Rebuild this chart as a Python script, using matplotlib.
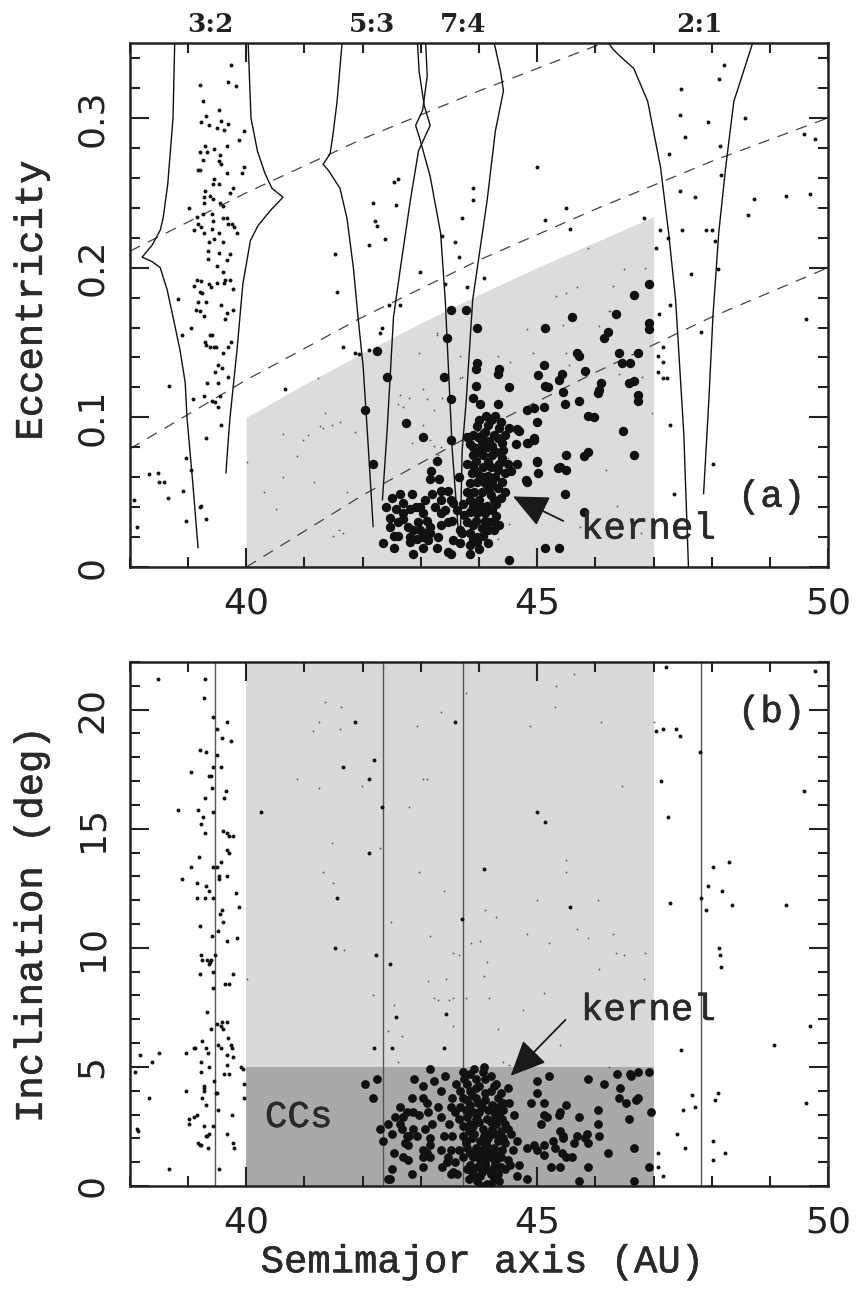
import numpy as np
import matplotlib
matplotlib.use('Agg')
import matplotlib.pyplot as plt
import matplotlib.patheffects as pe
from matplotlib.ticker import MultipleLocator
from matplotlib.transforms import blended_transform_factory

# ---------------- panel (a): eccentricity vs semimajor axis ----------------
# small dots (outside the shaded region)
ecc_small = [
    (39.74,0.335),(39.20,0.322),(39.69,0.324),(39.83,0.321),(39.26,0.311),(39.53,0.305),(39.31,0.301),
    (39.22,0.297),(39.36,0.295),(39.57,0.298),(39.69,0.296),(39.50,0.293),(39.62,0.292),(39.96,0.291),
    (39.88,0.285),(39.29,0.281),(39.45,0.279),(39.67,0.281),(39.20,0.277),(39.32,0.277),(39.55,0.275),
    (39.26,0.272),(39.53,0.271),(39.57,0.269),(39.96,0.267),(39.20,0.265),(39.17,0.265),(39.67,0.263),
    (39.93,0.263),(39.45,0.259),(39.43,0.256),(39.53,0.256),(39.77,0.253),(39.72,0.250),(39.29,0.251),
    (39.38,0.248),(39.27,0.247),(39.43,0.246),(39.55,0.243),(39.60,0.241),(39.27,0.243),(39.02,0.240),
    (39.26,0.236),(39.41,0.236),(39.15,0.234),(39.60,0.233),(39.67,0.233),(39.69,0.229),(39.76,0.229),
    (39.43,0.231),(39.17,0.229),(39.79,0.227),(39.84,0.223),(39.22,0.227),(39.27,0.223),(39.10,0.225),
    (39.41,0.226),(39.53,0.223),(39.45,0.219),(39.36,0.217),(39.60,0.217),(39.34,0.211),(39.53,0.210),
    (39.72,0.209),(39.34,0.206),(39.67,0.205),(39.50,0.201),(39.60,0.197),(39.15,0.192),(39.22,0.191),
    (39.10,0.188),(39.36,0.189),(39.39,0.187),(39.50,0.190),(39.64,0.192),(39.72,0.192),(39.62,0.190),
    (39.77,0.186),(39.20,0.184),(39.24,0.183),(38.83,0.179),(39.17,0.177),(39.31,0.177),(39.14,0.172),
    (39.20,0.171),(39.57,0.175),(39.77,0.172),(39.67,0.170),(39.27,0.168),(39.64,0.166),(39.05,0.160),
    (38.90,0.155),(39.38,0.155),(39.41,0.155),(39.29,0.150),(39.31,0.148),(39.45,0.147),(39.48,0.147),
    (39.38,0.147),(39.74,0.150),(39.69,0.147),(39.60,0.143),(39.51,0.135),(39.58,0.133),(39.47,0.130),
    (39.69,0.127),(38.67,0.121),(39.33,0.123),(39.51,0.123),(39.27,0.114),(39.08,0.112),(39.41,0.111),
    (39.46,0.110),(39.55,0.114),(39.51,0.107),(39.57,0.095),
    (39.31,0.086),(38.96,0.073),(39.05,0.065),(38.33,0.062),(38.48,0.063),(38.50,0.057),(38.59,0.057),
    (38.65,0.046),(38.91,0.051),(38.07,0.045),(39.20,0.040),(39.22,0.041),(38.96,0.031),(39.31,0.032),
    (38.12,0.027),
    (41.53,0.209),(41.56,0.184),(42.11,0.215),(42.22,0.231),(42.25,0.228),(42.18,0.243),(42.39,0.219),
    (42.58,0.242),(42.53,0.257),(42.60,0.259),(42.46,0.175),(42.65,0.175),(42.99,0.197),(40.67,0.119),
    (41.67,0.147),(41.87,0.143),(41.93,0.142),(42.11,0.145),(42.34,0.160),(42.30,0.156),
    (48.21,0.335),(48.12,0.326),(47.47,0.319),(47.45,0.302),(47.93,0.297),(48.57,0.300),(47.54,0.287),
    (48.14,0.281),(49.58,0.289),(49.77,0.286),(47.26,0.276),(45.00,0.267),(48.16,0.262),(43.89,0.253),
    (43.89,0.245),(47.45,0.251),(47.72,0.247),(48.72,0.246),(49.27,0.248),(49.69,0.249),(48.62,0.235),
    (45.50,0.240),(43.71,0.233),(45.14,0.232),(45.56,0.226),(46.83,0.233),(47.11,0.225),(47.49,0.225),
    (47.91,0.225),(48.00,0.225),(43.59,0.217),(47.24,0.220),(43.37,0.221),(43.65,0.207),(47.05,0.213),
    (48.05,0.218),(47.64,0.196),(44.08,0.193),(43.80,0.187),(43.42,0.189),(48.10,0.199),(47.28,0.175),
    (47.09,0.169),(49.62,0.166),(47.17,0.147),(47.07,0.141),(47.17,0.137),(47.07,0.130),(47.16,0.126),
    (47.23,0.126),(47.81,0.157),(47.29,0.095),(48.02,0.069),(47.36,0.049),
]

# big dots (inside the shaded region, incl. the kernel)
ecc_big = [
    (43.51,0.172),(43.78,0.172),(43.97,0.160),(45.14,0.160),(42.25,0.144),(42.42,0.127),(43.45,0.153),
    (43.97,0.136),(43.94,0.132),(45.11,0.135),(44.35,0.132),(44.32,0.129),(43.40,0.127),(45.02,0.128),
    (43.94,0.121),(44.51,0.120),(45.14,0.121),(43.51,0.112),(43.89,0.113),(44.01,0.109),(44.32,0.109),
    (44.83,0.105),(44.94,0.106),(45.11,0.107),(42.04,0.105),(42.75,0.096),(43.04,0.087),(43.52,0.085),
    (43.28,0.071),(42.18,0.069),(43.18,0.064),(43.15,0.059),(43.32,0.059),
    (44.28,0.101),(44.16,0.095),(43.97,0.094),(44.35,0.093),(44.51,0.093),(44.68,0.091),(43.90,0.088),
    (43.98,0.087),(44.07,0.089),(43.80,0.087),(44.33,0.086),(44.94,0.086),(44.83,0.083),(44.63,0.082),
    (43.90,0.080),(44.02,0.080),(44.14,0.080),(44.23,0.081),(44.42,0.078),(43.90,0.075),(44.07,0.075),
    (44.23,0.075),(44.40,0.073),(44.49,0.069),(44.66,0.069),(45.00,0.070),(43.80,0.069),(43.90,0.068),
    (44.06,0.067),(44.20,0.067),(44.32,0.065),(44.45,0.063),(43.88,0.063),(44.02,0.061),(44.16,0.061),
    (45.02,0.063),(44.83,0.057),(43.65,0.060),(43.97,0.057),(44.11,0.056),(44.23,0.056),(44.32,0.053),
    (44.37,0.046),(44.25,0.045),(44.14,0.041),(44.23,0.038),(43.85,0.045),(43.94,0.043),(43.73,0.042),
    (43.85,0.037),(43.97,0.036),(44.25,0.031),(44.11,0.031),(43.80,0.030),(43.90,0.028),(44.25,0.025),
    (44.16,0.025),(44.07,0.021),(43.97,0.020),(43.85,0.023),(43.71,0.023),(43.97,0.017),(43.85,0.015),
    (43.47,0.010),(44.51,0.005),(45.14,0.013),
    (44.00,0.098),(44.20,0.098),(44.10,0.090),(44.25,0.088),(44.40,0.083),(44.05,0.084),(43.85,0.082),
    (44.30,0.077),(44.15,0.070),(43.95,0.071),(44.35,0.069),(44.55,0.064),(43.85,0.056),(44.05,0.050),
    (44.20,0.048),(44.45,0.050),(43.80,0.050),(44.00,0.045),(44.10,0.036),(43.95,0.031),(44.30,0.034),
    (43.75,0.035),(44.05,0.026),(43.90,0.019),(44.15,0.016),(43.62,0.038),(43.55,0.043),(43.30,0.020),
    (42.98,0.040),(42.60,0.030),(42.95,0.030),(43.25,0.040),(42.40,0.040),
    (44.12,0.101),(44.38,0.097),(44.00,0.077),(44.18,0.084),(44.45,0.088),(43.95,0.064),(44.28,0.060),
    (44.10,0.060),(44.40,0.057),(44.18,0.052),(43.92,0.050),(44.30,0.042),(44.05,0.040),(43.90,0.040),
    (44.18,0.030),(44.35,0.028),(44.00,0.012),
    (42.51,0.046),(42.65,0.049),(42.70,0.043),(42.85,0.049),(42.58,0.039),(42.70,0.036),(42.82,0.039),
    (42.47,0.033),(42.47,0.027),(42.70,0.032),(42.91,0.040),(43.08,0.045),(43.20,0.049),(43.34,0.051),
    (43.47,0.051),(43.03,0.036),(43.11,0.031),(43.16,0.027),(43.34,0.045),(43.42,0.038),(43.34,0.036),
    (43.51,0.045),(43.54,0.031),(42.78,0.027),(42.87,0.025),(42.99,0.025),(43.08,0.023),(43.16,0.023),
    (42.53,0.021),(42.61,0.021),(42.82,0.020),(42.94,0.019),(43.03,0.020),(43.13,0.018),(42.82,0.017),
    (42.35,0.016),(42.53,0.013),(43.04,0.013),(42.87,0.009),(43.68,0.025),(43.68,0.016),(43.34,0.028),
    (43.47,0.030),(43.56,0.018),(43.28,0.013),(43.85,0.009),(43.51,0.009),
    (45.59,0.167),(46.35,0.169),(46.93,0.163),(46.93,0.159),(46.21,0.157),(46.14,0.153),(45.69,0.143),
    (45.71,0.141),(46.40,0.143),(46.74,0.143),(46.45,0.136),(46.59,0.136),(45.42,0.129),(45.37,0.125),
    (45.83,0.131),(45.18,0.120),(45.44,0.117),(46.09,0.123),(46.07,0.118),(46.05,0.116),(46.57,0.123),
    (46.66,0.124),(46.73,0.115),(46.73,0.111),(45.71,0.111),(45.47,0.109),(45.88,0.101),(45.97,0.100),
    (45.00,0.097),(44.66,0.092),(46.47,0.091),(44.94,0.085),(44.85,0.083),(45.88,0.077),(45.50,0.075),
    (45.80,0.074),(46.66,0.075),(44.99,0.071),(45.35,0.066),(45.40,0.067),(45.49,0.065),(44.80,0.058),
    (45.47,0.049),(45.80,0.037),(45.37,0.013),(46.92,0.189),(46.66,0.182),
]

# tiny grey dots inside the shaded region
ecc_tiny = [
    (41.24,0.126),(40.63,0.089),(40.98,0.085),(41.06,0.088),(41.27,0.094),(41.32,0.093),(41.48,0.095),
    (41.61,0.097),(41.87,0.090),(40.01,0.070),(40.87,0.074),(40.63,0.060),(41.17,0.057),(40.31,0.050),
    (41.73,0.050),(40.51,0.039),(41.60,0.025),(41.67,0.023),(41.49,0.021),(41.36,0.103),(43.28,0.156),
    (42.96,0.143),(43.04,0.119),(43.11,0.112),(42.85,0.083),(43.22,0.081),(43.34,0.080),(43.30,0.075),
    (43.34,0.071),(43.71,0.083),(42.65,0.115),(42.61,0.109),(42.70,0.107),(43.68,0.141),(43.71,0.127),
    (43.22,0.105),(43.03,0.095),(44.32,0.141),(43.27,0.155),(44.82,0.159),(45.45,0.162),(46.07,0.161),
    (46.23,0.171),(44.54,0.137),(44.92,0.143),(45.49,0.143),(45.54,0.135),(43.68,0.126),(43.37,0.113),
    (42.80,0.113),(46.40,0.129),(46.81,0.127),(46.98,0.103),(43.15,0.085),(44.49,0.073),(46.19,0.065),
    (44.28,0.055),(46.38,0.041),(44.51,0.029),(45.73,0.027),(46.78,0.023),(44.32,0.019),(45.88,0.213),
    (46.49,0.199),(46.86,0.200),(46.31,0.188),(45.69,0.187),(45.49,0.183),(45.32,0.181),(46.26,0.171),
]

# shaded region: a = 40..47 below the q = 36 AU perihelion curve
shade_a = [40, 41, 42, 43, 44, 45, 46, 47]
shade_e = [0.100, 0.122, 0.143, 0.163, 0.182, 0.200, 0.217, 0.234]

# dashed lines of constant perihelion q = 30, 35, 40 AU
q_a = [38, 40, 42, 44, 46, 48, 50]
q30_e = [0.211, 0.250, 0.286, 0.318, 0.348, 0.375, 0.400]
q35_e = [0.079, 0.125, 0.167, 0.205, 0.239, 0.271, 0.300]
q40_a = [40, 42, 44, 46, 48, 50]
q40_e = [0.000, 0.048, 0.091, 0.130, 0.167, 0.200]

# resonance separatrices (a, e)
res_32_left = [(38.77,0.352),(38.74,0.300),(38.65,0.256),(38.57,0.233),(38.52,0.225),(38.38,0.215),
               (38.21,0.207),(38.38,0.204),(38.52,0.200),(38.64,0.185),(38.74,0.167),(38.86,0.145),
               (38.95,0.123),(38.98,0.100),(39.03,0.078),(39.08,0.056),(39.17,0.013)]
res_32_right = [(40.03,0.352),(40.08,0.300),(40.19,0.278),(40.32,0.263),(40.44,0.253),(40.63,0.247),
                (40.41,0.238),(40.20,0.228),(40.07,0.218),(39.94,0.189),(39.84,0.145),(39.72,0.100),
                (39.69,0.085),(39.65,0.063)]
res_53_left = [(41.65,0.352),(41.56,0.311),(41.49,0.289),(41.44,0.276),(41.32,0.269),(41.41,0.265),
               (41.61,0.253),(41.73,0.233),(41.84,0.200),(41.92,0.167),(42.01,0.133),(42.10,0.078),
               (42.18,0.027)]
res_53_right = [(42.94,0.352),(42.97,0.331),(43.06,0.308),(43.16,0.295),(42.96,0.278),(42.82,0.245),
                (42.65,0.200),(42.53,0.167),(42.42,0.091),(42.34,0.045)]
res_74_left = [(43.08,0.352),(43.11,0.328),(43.03,0.305),(42.91,0.295),(42.99,0.285),(43.16,0.261),
               (43.34,0.223),(43.42,0.178),(43.54,0.078),(43.65,0.021)]
res_74_right = [(44.25,0.352),(44.37,0.331),(44.42,0.318),(44.28,0.291),(44.14,0.245),(43.99,0.205),
                (43.89,0.178),(43.78,0.111),(43.71,0.078),(43.68,0.021)]
res_21_left = [(46.19,0.352),(46.30,0.346),(46.43,0.341),(46.66,0.333),(46.90,0.311),(47.12,0.267),
               (47.26,0.223),(47.38,0.178),(47.52,0.089),(47.60,0.000)]
res_21_right = [(48.72,0.352),(48.38,0.311),(48.24,0.267),(48.12,0.223),(48.02,0.167),(47.95,0.111),
                (47.86,0.049)]

res_labels = ['3:2', '5:3', '7:4', '2:1']
res_label_a = [39.38, 42.17, 43.73, 47.79]

# ---------------- panel (b): inclination vs semimajor axis ----------------
inc_small = [
    (38.48,21.3),(39.29,21.3),(39.27,20.5),(39.43,19.7),(39.67,19.5),(39.50,19.2),(39.58,18.8),(39.74,18.7),
    (39.20,18.3),(39.31,18.2),(39.50,18.1),(39.43,17.6),(39.57,17.6),(39.05,17.4),(39.36,17.2),(39.39,17.2),
    (39.65,16.6),(39.62,16.3),(39.41,16.7),(39.29,16.3),(38.83,15.8),(39.17,15.8),(39.26,15.5),(39.43,15.7),
    (39.22,15.2),(39.29,14.8),(39.60,14.9),(39.67,14.8),(39.71,14.7),(39.77,14.7),(39.67,14.1),(39.71,14.0),
    (39.19,13.8),(39.57,13.6),(39.05,13.4),(39.43,13.4),(39.50,13.4),(39.53,13.0),(39.53,12.9),(39.67,13.0),
    (38.90,12.9),(39.15,12.7),(39.31,12.6),(39.36,12.4),(39.15,12.1),(39.29,12.1),(39.43,12.1),(39.82,12.3),
    (39.88,11.7),(39.58,11.6),(39.55,11.4),(39.60,11.1),(39.20,10.9),(39.51,10.7),(39.41,10.5),(39.67,10.3),
    (39.84,10.4),(39.22,9.7),(39.24,9.5),(39.20,8.9),(39.33,9.5),(39.38,9.4),(39.36,9.3),(39.39,9.5),
    (39.46,9.7),(39.43,9.0),(39.43,8.3),(39.64,8.5),(39.71,8.5),(39.77,8.9),(39.33,7.3),(39.39,6.6),
    (39.50,6.8),(39.57,6.7),(39.60,6.6),(39.67,6.9),(39.58,6.9),(39.24,6.1),(39.10,5.8),(39.12,5.8),
    (38.96,5.6),(39.31,5.8),(39.34,5.6),(39.51,5.9),(39.57,5.8),(39.69,6.2),(39.74,5.9),(39.76,5.8),
    (39.67,5.5),(39.77,5.4),(38.50,5.6),(38.17,5.5),(38.38,5.2),(38.09,4.8),(39.22,5.2),(39.22,4.8),
    (39.36,5.0),(39.67,5.1),(39.62,4.7),(39.71,4.7),(39.44,4.4),(39.48,3.9),(39.50,3.9),(38.96,4.0),
    (39.27,4.2),(39.27,4.1),(39.27,4.0),(39.24,3.7),(39.96,4.3),(39.94,4.9),(39.91,5.0),(38.33,3.7),
    (39.31,3.4),(39.51,3.2),(39.76,3.0),(39.15,3.0),(39.10,2.9),(39.02,2.8),(39.02,2.6),(39.27,2.5),
    (39.43,2.5),(38.12,2.4),(38.14,2.3),(39.36,2.2),(39.33,2.1),(39.31,2.1),(39.67,2.2),(39.17,1.8),
    (39.20,1.7),(39.22,1.7),(39.34,1.6),(39.77,1.8),(39.79,1.6),(38.67,0.7),(39.53,0.7),(39.96,3.7),
    (47.22,21.8),(49.77,21.6),(47.05,19.1),(47.17,19.2),(47.38,19.2),(47.45,18.9),(47.79,18.2),(47.12,17.0),
    (49.58,16.6),(47.24,15.5),(48.02,13.4),(48.29,13.6),(47.93,12.6),(48.17,12.4),(47.29,11.9),(47.81,12.1),
    (47.91,11.6),(48.34,11.8),(49.27,11.8),(48.12,10.0),(48.14,9.7),(48.16,9.2),(49.69,6.7),(47.47,5.7),
    (49.07,5.9),(47.66,3.8),(48.10,3.9),(48.05,3.6),(47.72,3.3),(47.50,3.2),(49.62,3.5),(47.41,2.2),
    (47.54,1.6),(48.02,1.9),(48.22,1.4),(48.03,1.1),(47.07,1.4),(47.07,0.8),(47.16,0.4),
    (41.87,19.5),(41.67,17.6),(42.20,17.9),(42.11,17.1),(40.26,15.7),(42.34,15.9),(42.11,14.0),(43.59,19.5),
    (44.08,13.3),(41.56,12.1),(43.71,11.2),(41.53,10.0),(42.23,9.7),(42.47,9.3),(45.00,15.7),(45.14,15.3),
    (45.56,11.7),(42.51,5.8),(42.58,7.1),(42.20,5.8),(43.44,7.2),(43.40,5.8),
]

inc_tiny = [
    (41.36,20.3),(41.63,20.1),(41.25,19.5),(41.15,19.1),(41.61,19.2),(40.87,17.1),(41.25,16.7),(41.98,16.8),
    (42.80,15.9),(41.48,14.4),(42.30,14.2),(41.32,13.2),(41.49,12.7),(42.97,13.2),(43.40,12.4),(42.49,11.1),
    (43.15,10.5),(43.35,19.9),(42.94,19.3),(43.04,17.1),(43.11,17.1),(43.78,20.7),(42.35,21.8),(43.87,10.2),
    (44.01,10.3),(44.11,11.6),(44.30,11.3),(43.56,9.8),(43.66,9.7),(44.14,9.4),(44.08,8.8),(43.13,8.6),
    (43.44,8.7),(41.68,9.9),(40.01,8.7),(42.18,8.0),(43.23,7.9),(44.18,7.9),(45.63,21.5),(45.32,21.0),
    (45.30,20.1),(44.87,19.3),(46.09,19.5),(46.45,16.8),(45.49,13.7),(45.49,13.2),(44.99,12.0),(46.04,12.0),
    (44.82,10.6),(45.69,10.8),(45.88,10.4),(46.30,10.6),(45.21,10.2),(46.35,9.8),(46.49,9.7),(46.86,9.8),
    (46.07,9.1),(46.83,8.7),(45.11,8.1),(43.78,7.9),(43.56,7.9),(44.76,7.4),(44.33,6.6),(43.56,6.7),
    (45.40,5.9),(44.42,5.2),(44.51,5.1),(46.23,5.0),(42.53,7.6),(42.44,6.5),(42.68,6.3),(42.60,5.2),
    (43.30,7.8),(43.49,7.8),(47.00,19.5),
]

inc_big = [
    (42.04,4.3),(42.25,4.5),(42.18,3.7),(42.89,4.5),(43.15,4.9),(43.42,4.6),(43.23,4.4),(43.04,4.2),
    (43.61,4.3),(43.73,4.8),(42.85,3.7),(43.04,3.7),(42.65,3.3),(42.77,3.1),(42.87,3.1),(42.56,2.9),
    (43.11,3.5),(43.13,3.1),(43.30,3.3),(43.52,3.3),(43.58,3.1),(43.34,2.9),(43.20,2.6),(43.49,2.6),
    (42.44,2.6),(42.65,2.6),(42.68,2.4),(42.51,2.2),(42.87,2.4),(43.08,2.4),(43.39,2.1),(43.54,2.1),
    (42.77,2.1),(42.80,2.1),(42.35,1.9),(42.94,2.1),(42.73,1.8),(42.78,1.7),(43.16,2.0),(43.16,1.7),
    (43.34,1.5),(43.52,1.5),(42.53,1.4),(43.04,1.5),(43.11,1.4),(43.03,1.2),(43.15,1.2),(42.70,1.2),
    (42.78,1.1),(43.47,1.2),(43.45,1.0),(43.59,1.0),(42.51,0.7),(43.03,0.8),(42.85,0.5),(42.44,0.3),
    (42.47,0.3),(43.56,0.6),(43.63,0.5),(43.37,0.8),(43.51,0.5),(42.70,2.9),(42.30,2.4),(43.34,4.0),
    (42.96,3.0),(43.54,3.7),
    (44.08,5.0),(44.06,4.8),(43.94,4.5),(43.80,4.3),(44.11,4.5),(43.85,4.0),(43.73,3.7),(43.94,3.7),
    (44.20,4.0),(44.32,3.7),(44.49,4.1),(43.68,3.3),(43.85,3.4),(43.99,3.5),(44.16,3.2),(44.32,3.3),
    (44.42,3.2),(44.51,3.5),(43.80,2.9),(43.97,3.0),(44.14,2.8),(44.28,2.9),(44.40,2.8),(44.49,2.4),
    (43.73,2.5),(43.90,2.5),(44.06,2.4),(44.23,2.4),(44.37,2.3),(43.73,2.1),(43.88,2.0),(44.02,1.9),
    (44.16,2.0),(44.32,1.9),(44.42,2.0),(43.80,1.6),(43.94,1.6),(44.08,1.6),(44.25,1.6),(44.40,1.5),
    (43.73,1.2),(43.90,1.2),(44.06,1.2),(44.20,1.2),(44.37,1.2),(43.85,0.9),(43.97,0.8),(44.11,0.9),
    (44.25,0.8),(44.37,0.8),(43.90,0.5),(44.02,0.4),(44.20,0.5),(43.97,0.2),(44.14,0.1),(44.32,0.5),
    (44.58,1.5),(44.49,1.1),(44.66,1.9),(44.66,0.4),(44.82,0.3),(44.68,0.9),
    (43.85,4.7),(44.20,4.6),(44.30,4.3),(43.95,4.1),(44.10,3.9),(43.80,3.6),(44.05,3.3),(44.25,3.1),
    (43.90,3.1),(44.45,2.6),(43.82,2.3),(44.15,2.2),(44.00,2.7),(44.30,2.6),(43.85,1.4),(44.00,1.4),
    (44.15,1.4),(44.30,1.3),(43.78,1.9),(44.10,1.0),(44.28,1.0),(43.80,0.7),(44.05,0.6),(44.25,0.3),
    (44.45,0.7),(44.55,2.2),(44.60,3.0),(43.65,2.8),(43.65,1.5),(43.67,4.0),
    (43.92,4.9),(44.00,4.2),(44.25,4.2),(43.75,4.5),(44.38,3.9),(43.88,3.8),(44.10,3.6),(44.42,3.5),
    (43.78,3.2),(44.22,3.4),(44.00,3.1),(44.35,3.0),(43.95,2.8),(44.20,2.7),(43.85,2.6),(44.08,2.1),
    (44.25,2.2),(43.92,2.2),(44.38,2.1),(43.78,1.8),(44.12,1.8),(44.45,1.8),(43.95,1.3),(44.18,1.6),
    (44.30,1.1),(44.02,1.1),(43.88,0.6),(44.12,0.7),(44.35,0.2),(43.82,0.3),(44.05,0.0),(44.20,0.1),
    (45.00,4.4),(45.21,4.6),(45.00,3.9),(44.89,3.5),(45.11,3.5),(45.49,3.4),(45.39,3.1),(45.37,3.0),
    (45.11,3.0),(45.16,2.9),(45.06,2.6),(45.71,2.9),(46.04,3.2),(45.88,4.5),(46.14,4.3),(46.37,4.7),
    (46.59,4.7),(46.62,4.6),(46.74,4.8),(46.93,4.8),(46.43,4.1),(46.40,3.7),(46.52,3.5),(46.69,3.6),
    (46.73,3.7),(46.95,3.1),(46.57,2.8),(46.05,2.6),(45.40,2.3),(45.45,2.1),(45.45,2.0),(45.28,1.9),
    (45.68,2.1),(45.85,2.2),(45.83,2.0),(45.87,1.8),(46.07,2.1),(44.83,1.6),(44.94,1.7),(45.00,1.5),
    (45.12,1.7),(45.30,1.6),(45.42,1.4),(45.11,1.3),(45.49,1.2),(45.59,1.2),(45.63,1.8),(46.21,1.4),
    (46.66,1.6),(45.23,0.8),(45.39,0.8),(45.88,0.8),(46.92,0.8),(45.71,0.2),(46.66,0.2),(44.53,0.9),
]

res_centers = [39.46, 42.35, 43.73, 47.81]

# ---------------- figure ----------------
mono = 'Liberation Mono'
plt.rcParams['font.family'] = ['DejaVu Sans']

fig = plt.figure(figsize=(8.59, 13.0), dpi=100)
ax1 = fig.add_axes([0.1513, 0.5638, 0.8127, 0.4031])
ax2 = fig.add_axes([0.1513, 0.0877, 0.8127, 0.4031])


def style_axis(ax, ymajor, yminor):
    ax.xaxis.set_major_locator(MultipleLocator(5))
    ax.xaxis.set_minor_locator(MultipleLocator(1))
    ax.yaxis.set_major_locator(MultipleLocator(ymajor))
    ax.yaxis.set_minor_locator(MultipleLocator(yminor))
    ax.tick_params(which='both', direction='in', top=True, right=True, width=1.5, colors='#222222')
    ax.tick_params(which='major', length=14)
    ax.tick_params(which='minor', length=7)
    ax.tick_params(axis='x', labelsize=26, pad=14, labelcolor='#222222')
    ax.tick_params(axis='y', labelsize=26, pad=15, labelrotation=90, labelcolor='#222222')
    for sp in ax.spines.values():
        sp.set_linewidth(1.8)
        sp.set_color('#222222')


# normal-weight typewriter face, thickened a little with a thin stroke
thick = [pe.withStroke(linewidth=0.45, foreground='#2a2a2a')]
label_kw = dict(family=mono, color='#2a2a2a', path_effects=thick)

# ---- panel (a)
ax1.fill_between(shade_a, 0, shade_e, color='#dcdcdd', lw=0, zorder=0)
for xs, ys in [(q_a, q30_e), (q_a, q35_e), (q40_a, q40_e)]:
    ax1.plot(xs, ys, color='#444444', lw=0.9, ls=(0, (9, 7)), zorder=1)
for curve in [res_32_left, res_32_right, res_53_left, res_53_right,
              res_74_left, res_74_right, res_21_left, res_21_right]:
    c = np.array(curve)
    ax1.plot(c[:, 0], c[:, 1], color='#111111', lw=1.0, zorder=2)

t = np.array(ecc_tiny)
ax1.scatter(t[:, 0], t[:, 1], s=1.6, color='#555555', lw=0, zorder=3)
s = np.array(ecc_small)
ax1.scatter(s[:, 0], s[:, 1], s=8, color='#111111', lw=0, zorder=3)
b = np.array(ecc_big)
ax1.scatter(b[:, 0], b[:, 1], s=46, color='#111111', lw=0, zorder=3)

ax1.set_xlim(38, 50)
ax1.set_ylim(0, 0.35)
style_axis(ax1, 0.1, 0.02)
ax1.set_yticks([0, 0.1, 0.2, 0.3])
ax1.set_yticklabels(['0', '0.1', '0.2', '0.3'], rotation=90, va='center')

trans = blended_transform_factory(ax1.transData, ax1.transAxes)
for lab, xa in zip(res_labels, res_label_a):
    ax1.text(xa, 1.036, lab, transform=trans, ha='center', va='center',
             fontsize=19, fontweight='bold', family='DejaVu Serif', color='#222222')

ax1.annotate('', xy=(44.54, 0.048), xytext=(45.49, 0.030),
             arrowprops=dict(arrowstyle='-|>,head_length=1.1,head_width=0.5',
                             mutation_scale=20, color='#1a1a1a', lw=1.3))
ax1.text(45.75, 0.019, 'kernel', fontsize=27, va='baseline', **label_kw)
ax1.text(48.45, 0.047, '(a)', fontsize=27, va='center', **label_kw)

# ---- panel (b)
ax2.axvspan(40, 47, color='#d9d9db', lw=0, zorder=0)
ax2.fill_between([40, 47], 0, 5, color='#a9a9ab', lw=0, zorder=0.5)
for xc in res_centers:
    ax2.axvline(xc, color='#555555', lw=1.0, zorder=1)

t = np.array(inc_tiny)
ax2.scatter(t[:, 0], t[:, 1], s=1.6, color='#555555', lw=0, zorder=3)
s = np.array(inc_small)
ax2.scatter(s[:, 0], s[:, 1], s=8, color='#111111', lw=0, zorder=3)
b = np.array(inc_big)
ax2.scatter(b[:, 0], b[:, 1], s=40, color='#111111', lw=0, zorder=3)

ax2.set_xlim(38, 50)
ax2.set_ylim(0, 22)
style_axis(ax2, 5, 1)
ax2.set_yticks([0, 5, 10, 15, 20])
ax2.set_yticklabels(['0', '5', '10', '15', '20'], rotation=90, va='center')

ax2.annotate('', xy=(44.51, 4.54), xytext=(45.52, 7.06),
             arrowprops=dict(arrowstyle='-|>,head_length=1.1,head_width=0.5',
                             mutation_scale=20, color='#1a1a1a', lw=1.3))
ax2.text(45.75, 6.97, 'kernel', fontsize=27, va='baseline', **label_kw)
ax2.text(48.45, 19.9, '(b)', fontsize=27, va='center', **label_kw)
ax2.text(40.32, 2.9, 'CCs', fontsize=27, va='center', **label_kw)

# axis labels
fig.text(0.037, 0.769, 'Eccentricity', rotation=90, ha='center', va='center',
         fontsize=28, **label_kw)
fig.text(0.037, 0.289, 'Inclination (deg)', rotation=90, ha='center', va='center',
         fontsize=28, **label_kw)
fig.text(0.562, 0.029, 'Semimajor axis (AU)', ha='center', va='center',
         fontsize=28, **label_kw)

fig.savefig('out.png', dpi=100, facecolor='white')
